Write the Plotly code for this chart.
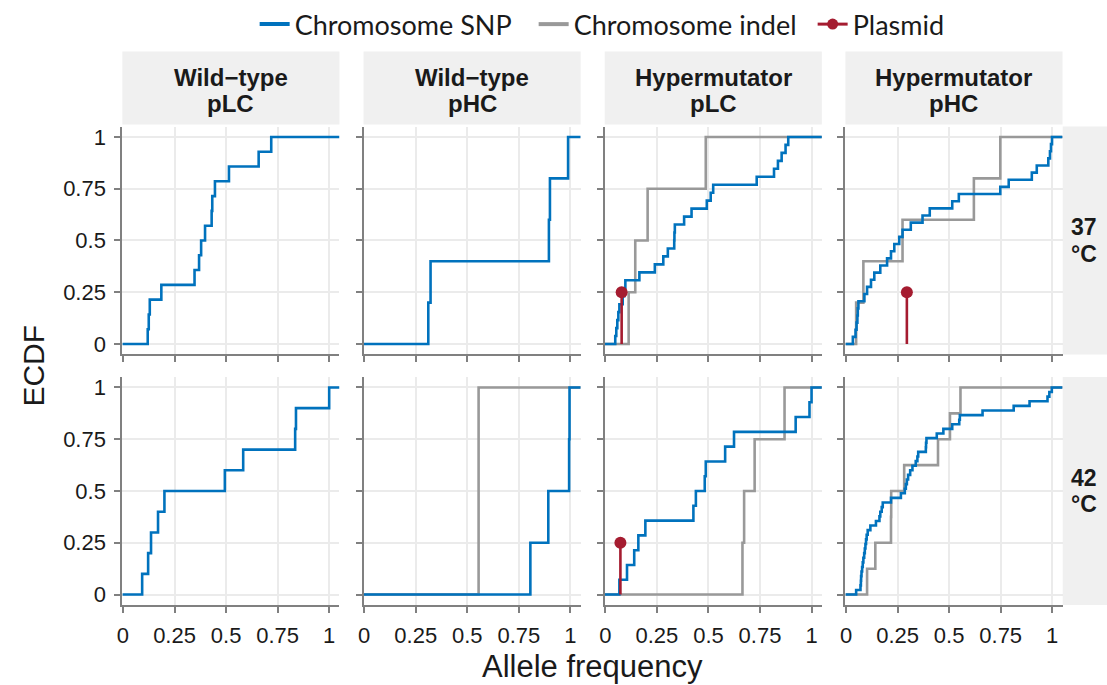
import plotly.graph_objects as go

W, H = 1107, 685

# ---------------- data ----------------
col_genotype = ["Wild\u2212type", "Wild\u2212type", "Hypermutator", "Hypermutator"]
col_plasmid = ["pLC", "pHC", "pLC", "pHC"]
row_temp = ["37", "42"]

x_ticks = [0, 0.25, 0.5, 0.75, 1]
x_ticklabels = ["0", "0.25", "0.5", "0.75", "1"]
y_ticks = [0, 0.25, 0.5, 0.75, 1]
y_ticklabels = ["0", "0.25", "0.5", "0.75", "1"]

# Chromosome SNP allele frequencies, per panel
snp_wt_plc_37 = [0.120, 0.125, 0.130, 0.186, 0.347, 0.369, 0.379, 0.398, 0.430,
                 0.433, 0.446, 0.514, 0.658, 0.719]
snp_wt_phc_37 = [0.311, 0.322, 0.896, 0.901, 0.989]
snp_hm_plc_37 = [0.048, 0.053, 0.058, 0.063, 0.068, 0.084, 0.092, 0.097, 0.165,
                 0.240, 0.281, 0.303, 0.334, 0.335, 0.337, 0.382, 0.418, 0.492,
                 0.511, 0.523, 0.734, 0.818, 0.837, 0.855, 0.874, 0.887]
snp_hm_phc_37 = [0.033, 0.046, 0.051, 0.055, 0.057, 0.060, 0.089, 0.102, 0.121,
                 0.137, 0.166, 0.199, 0.218, 0.234, 0.258, 0.274, 0.314, 0.371,
                 0.406, 0.515, 0.547, 0.748, 0.789, 0.901, 0.925, 0.981, 0.989,
                 0.994, 0.999]
snp_wt_plc_42 = [0.093, 0.122, 0.136, 0.170, 0.201, 0.494, 0.583, 0.835, 0.839, 1.000]
snp_wt_phc_42 = [0.806, 0.893, 0.994, 0.996]
snp_hm_plc_42 = [0.068, 0.105, 0.140, 0.160, 0.194, 0.427, 0.439, 0.482, 0.487,
                 0.581, 0.624, 0.923, 0.990, 1.000]
snp_hm_phc_42 = [0.049, 0.070, 0.072, 0.073, 0.075, 0.078, 0.081, 0.084, 0.088,
                 0.091, 0.094, 0.097, 0.100, 0.105, 0.118, 0.145, 0.162, 0.166,
                 0.173, 0.178, 0.218, 0.266, 0.285, 0.290, 0.295, 0.301, 0.311,
                 0.322, 0.338, 0.346, 0.350, 0.387, 0.388, 0.390, 0.440, 0.472,
                 0.515, 0.549, 0.552, 0.662, 0.813, 0.890, 0.977, 0.986, 0.998]

# Chromosome indel allele frequencies, per panel
indel_wt_plc_37 = []
indel_wt_phc_37 = []
indel_hm_plc_37 = [0.113, 0.145, 0.205, 0.487]
indel_hm_phc_37 = [0.049, 0.084, 0.274, 0.620, 0.748]
indel_wt_plc_42 = []
indel_wt_phc_42 = [0.555]
indel_hm_plc_42 = [0.665, 0.673, 0.724, 0.869]
indel_hm_phc_42 = [0.102, 0.142, 0.218, 0.219, 0.282, 0.446, 0.504, 0.555]

# Plasmid allele frequencies (lollipops), per panel
plasmid_wt_plc_37 = []
plasmid_wt_phc_37 = []
plasmid_hm_plc_37 = [0.079]
plasmid_hm_phc_37 = [0.295]
plasmid_wt_plc_42 = []
plasmid_wt_phc_42 = []
plasmid_hm_plc_42 = [0.073]
plasmid_hm_phc_42 = []
plasmid_height = 0.25

snp = [[snp_wt_plc_37, snp_wt_phc_37, snp_hm_plc_37, snp_hm_phc_37],
       [snp_wt_plc_42, snp_wt_phc_42, snp_hm_plc_42, snp_hm_phc_42]]
indel = [[indel_wt_plc_37, indel_wt_phc_37, indel_hm_plc_37, indel_hm_phc_37],
         [indel_wt_plc_42, indel_wt_phc_42, indel_hm_plc_42, indel_hm_phc_42]]
plasmid = [[plasmid_wt_plc_37, plasmid_wt_phc_37, plasmid_hm_plc_37, plasmid_hm_phc_37],
           [plasmid_wt_plc_42, plasmid_wt_phc_42, plasmid_hm_plc_42, plasmid_hm_phc_42]]

# ---------------- style ----------------
BLUE = "#0072BD"
GREY = "#999999"
RED = "#A51C30"
AXIS = "#808080"
GRID = "#EBEBEB"
STRIP = "#F0F0F0"
TXT = "#1a1a1a"
FONT = "Liberation Sans, Arial, sans-serif"

XR = [-0.003, 1.05]
YR = [-0.05, 1.05]

col_left = [117, 359.5, 602, 844]
col_w = 218.3
row_top = [122, 375.5]
row_h = 230.5


def ecdf(vals, x0, x1):
    s = sorted(vals)
    n = len(s)
    xs = [x0] + s + [x1]
    ys = [0.0] + [(i + 1) / n for i in range(n)] + [1.0]
    return xs, ys


fig = go.Figure()
layout = {}
shapes = []
annotations = []

for r in range(2):
    for c in range(4):
        idx = r * 4 + c + 1
        xa = "x" if idx == 1 else f"x{idx}"
        ya = "y" if idx == 1 else f"y{idx}"
        xd = [col_left[c] / W, (col_left[c] + col_w) / W]
        yd = [1 - (row_top[r] + row_h) / H, 1 - row_top[r] / H]
        common = dict(showline=True, linecolor=AXIS, linewidth=2, ticks="outside",
                      ticklen=6, tickwidth=2, tickcolor=AXIS, showgrid=True,
                      gridcolor=GRID, gridwidth=1.6, zeroline=False, fixedrange=True,
                      ticklabelstandoff=4,
                      tickfont=dict(family=FONT, size=22, color=TXT))
        layout["xaxis" if idx == 1 else f"xaxis{idx}"] = dict(
            domain=xd, anchor=ya, range=XR, tickvals=x_ticks, ticktext=x_ticklabels,
            showticklabels=(r == 1), **common)
        layout["yaxis" if idx == 1 else f"yaxis{idx}"] = dict(
            domain=yd, anchor=xa, range=YR, tickvals=y_ticks, ticktext=y_ticklabels,
            showticklabels=(c == 0), **common)

        if indel[r][c]:
            xs, ys = ecdf(indel[r][c], XR[0], XR[1])
            fig.add_trace(go.Scatter(x=xs, y=ys, xaxis=xa, yaxis=ya, mode="lines",
                                     line=dict(color=GREY, width=2.6, shape="hv"),
                                     name="Chromosome indel", showlegend=False,
                                     hoverinfo="skip"))
        xs, ys = ecdf(snp[r][c], XR[0], XR[1])
        fig.add_trace(go.Scatter(x=xs, y=ys, xaxis=xa, yaxis=ya, mode="lines",
                                 line=dict(color=BLUE, width=2.6, shape="hv"),
                                 name="Chromosome SNP", showlegend=False,
                                 hoverinfo="skip"))
        if plasmid[r][c]:
            sx, sy = [], []
            for v in plasmid[r][c]:
                sx += [v, v, None]
                sy += [0, plasmid_height, None]
            fig.add_trace(go.Scatter(x=sx, y=sy, xaxis=xa, yaxis=ya, mode="lines",
                                     line=dict(color=RED, width=2.6),
                                     showlegend=False, hoverinfo="skip"))
            fig.add_trace(go.Scatter(x=plasmid[r][c], y=[plasmid_height] * len(plasmid[r][c]),
                                     xaxis=xa, yaxis=ya, mode="markers",
                                     marker=dict(color=RED, size=12),
                                     showlegend=False, hoverinfo="skip"))

# legend-only entries
fig.add_trace(go.Scatter(x=[None], y=[None], mode="lines", line=dict(color=BLUE, width=4),
                         name="Chromosome SNP", legendrank=1))
fig.add_trace(go.Scatter(x=[None], y=[None], mode="lines", line=dict(color=GREY, width=4),
                         name="Chromosome indel", legendrank=2))
fig.add_trace(go.Scatter(x=[None], y=[None], mode="lines+markers",
                         line=dict(color=RED, width=3), marker=dict(color=RED, size=11),
                         name="Plasmid", legendrank=3))

# strips
for c in range(4):
    x0, x1 = col_left[c], col_left[c] + col_w
    shapes.append(dict(type="rect", xref="paper", yref="paper", x0=x0 / W, x1=x1 / W,
                       y0=1 - 120 / H, y1=1 - 46 / H, fillcolor=STRIP, line=dict(width=0),
                       layer="below"))
    for txt, yy in ((col_genotype[c], 72), (col_plasmid[c], 99)):
        annotations.append(dict(xref="paper", yref="paper", x=(x0 + x1) / 2 / W, y=1 - yy / H,
                                text=f"<b>{txt}</b>", showarrow=False,
                                xanchor="center", yanchor="middle",
                                font=dict(family=FONT, size=24, color=TXT)))
for r in range(2):
    y0, y1 = row_top[r], row_top[r] + row_h
    shapes.append(dict(type="rect", xref="paper", yref="paper", x0=1062.5 / W, x1=1.0,
                       y0=1 - y1 / H, y1=1 - y0 / H, fillcolor=STRIP, line=dict(width=0),
                       layer="below"))
    cy = (y0 + y1) / 2
    for txt, yy in ((row_temp[r], cy - 13.5), ("°C", cy + 13.5)):
        annotations.append(dict(xref="paper", yref="paper", x=1084 / W, y=1 - yy / H,
                                text=f"<b>{txt}</b>", showarrow=False,
                                xanchor="center", yanchor="middle",
                                font=dict(family=FONT, size=23, color=TXT)))

# axis titles
annotations.append(dict(xref="paper", yref="paper", x=589.5 / W, y=1 - 668 / H,
                        text="Allele frequency", showarrow=False, xanchor="center",
                        yanchor="middle", font=dict(family=FONT, size=31, color=TXT)))
annotations.append(dict(xref="paper", yref="paper", x=28 / W, y=1 - 364 / H,
                        text="ECDF", showarrow=False, textangle=-90, xanchor="center",
                        yanchor="middle", font=dict(family=FONT, size=30, color=TXT)))

fig.update_layout(
    width=W, height=H, margin=dict(l=0, r=0, t=0, b=0),
    plot_bgcolor="white", paper_bgcolor="white",
    shapes=shapes, annotations=annotations,
    legend=dict(orientation="h", x=250 / W, xanchor="left", y=1 + 6 / H, yanchor="top",
                font=dict(family="Lato, Noto Sans, sans-serif", size=27, color=TXT),
                bgcolor="rgba(0,0,0,0)", itemwidth=30, tracegroupgap=0,
                entrywidth=234, entrywidthmode="pixels"),
    **layout,
)

fig.write_html("out.html", config={"displayModeBar": False},
               post_script=("document.documentElement.style.overflow='hidden';"
                            "document.body.style.margin='0';"
                            "document.body.style.overflow='hidden';"))
